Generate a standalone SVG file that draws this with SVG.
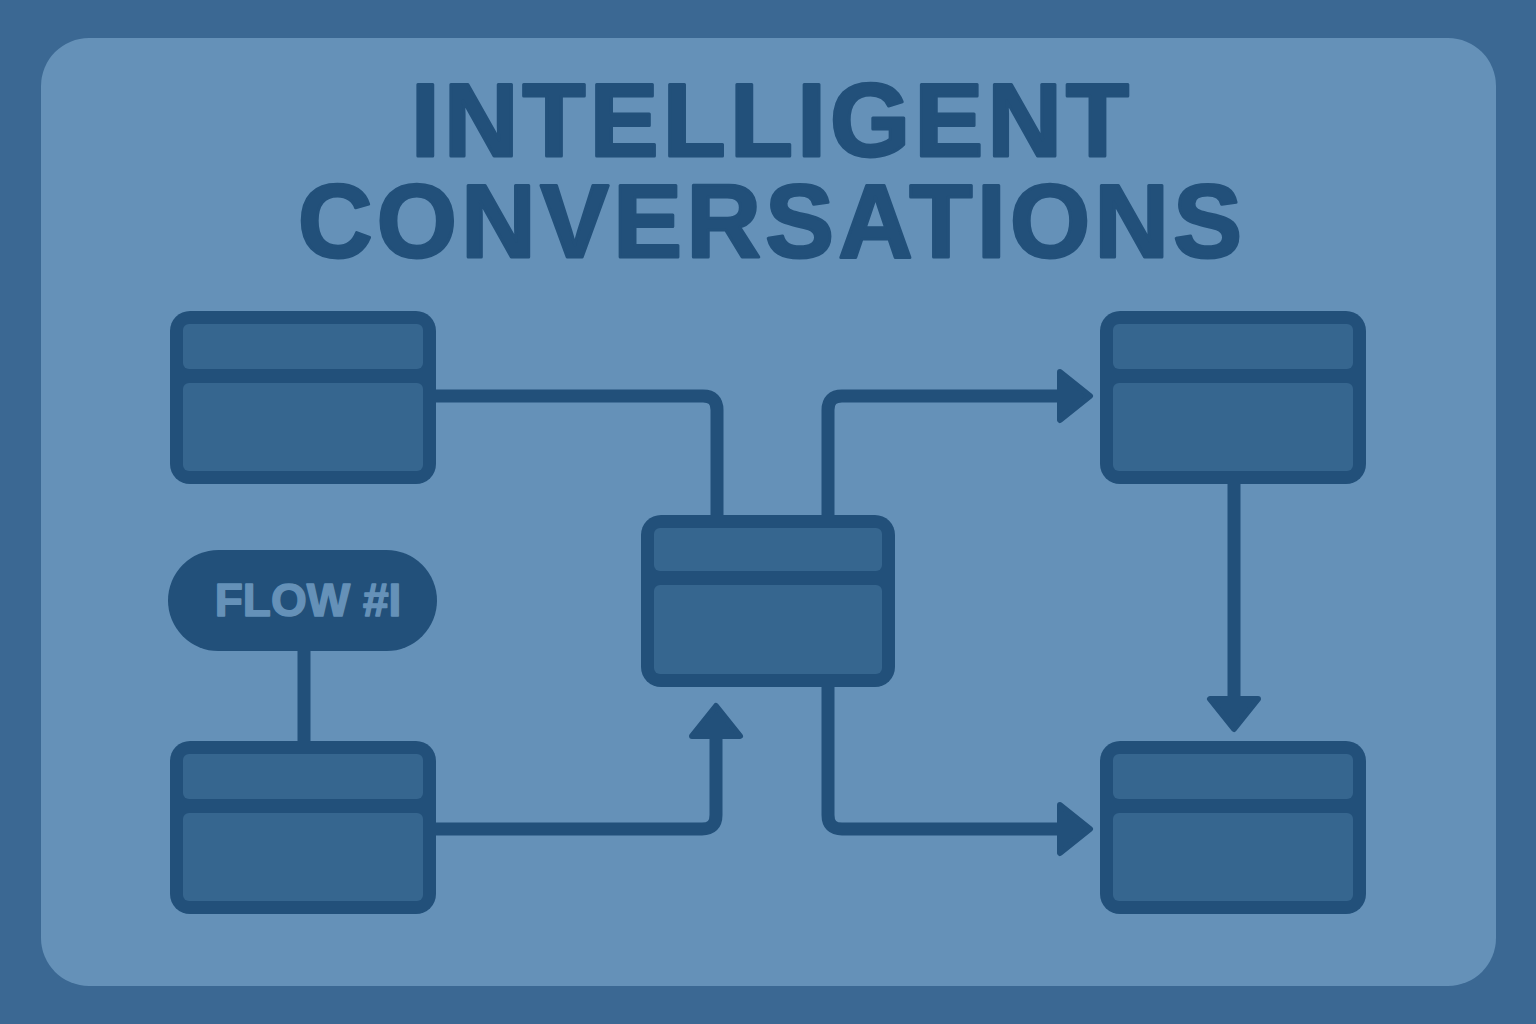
<svg xmlns="http://www.w3.org/2000/svg" width="1536" height="1024" viewBox="0 0 1536 1024">
  <style>
    .title { font-family: "Liberation Sans", Arial, sans-serif; font-weight: bold; font-size: 103px; fill: #22507a; stroke: #22507a; stroke-width: 3; stroke-linejoin: round; }
    .pilltext { font-family: "Liberation Sans", Arial, sans-serif; font-weight: bold; font-size: 46px; fill: #6591b8; stroke: #6591b8; stroke-width: 1.5; stroke-linejoin: round; }
    .frame { fill: #22507a; }
    .cell { fill: #36668f; }
    .conn { fill: none; stroke: #22507a; stroke-width: 13; stroke-linejoin: round; }
  </style>
  <defs>
    <marker id="arrow" markerUnits="userSpaceOnUse" markerWidth="40" markerHeight="60" viewBox="0 -30 40 60" refX="6" refY="0" orient="auto">
      <path d="M3,-24 L33,0 L3,24 Z" fill="#22507a" stroke="#22507a" stroke-width="6" stroke-linejoin="round"/>
    </marker>
  </defs>

  <rect x="0" y="0" width="1536" height="1024" fill="#3b6893"/>
  <rect x="41" y="38" width="1455" height="948" rx="48" fill="#6591b8"/>

  <g id="title">
    <text class="title" x="770" y="156" text-anchor="middle" textLength="718" lengthAdjust="spacing">INTELLIGENT</text>
    <text class="title" x="770" y="257" text-anchor="middle" textLength="944" lengthAdjust="spacing">CONVERSATIONS</text>
  </g>

  <g id="connectors">
    <path class="conn" d="M430,396 H703 Q717,396 717,410 V518"/>
    <path class="conn" d="M828,518 V410 Q828,396 842,396 H1063" marker-end="url(#arrow)"/>
    <path class="conn" d="M828,684 V815 Q828,829 842,829 H1063" marker-end="url(#arrow)"/>
    <path class="conn" d="M1234,480 V702" marker-end="url(#arrow)"/>
    <path class="conn" d="M430,829 H702 Q716,829 716,815 V733" marker-end="url(#arrow)"/>
    <path class="conn" d="M304,648 V744"/>
  </g>

  <g id="node-top-left">
    <rect class="frame" x="170" y="311" width="266" height="173" rx="20"/>
    <rect class="cell" x="183" y="324" width="240" height="45" rx="6"/>
    <rect class="cell" x="183" y="383" width="240" height="88" rx="6"/>
  </g>

  <g id="node-flow-label">
    <rect class="frame" x="168" y="550" width="269" height="101" rx="50.5"/>
    <text class="pilltext" x="308" y="616" text-anchor="middle">FLOW #I</text>
  </g>

  <g id="node-bottom-left">
    <rect class="frame" x="170" y="741" width="266" height="173" rx="20"/>
    <rect class="cell" x="183" y="754" width="240" height="45" rx="6"/>
    <rect class="cell" x="183" y="813" width="240" height="88" rx="6"/>
  </g>

  <g id="node-center">
    <rect class="frame" x="641" y="515" width="254" height="172" rx="20"/>
    <rect class="cell" x="654" y="528" width="228" height="43" rx="6"/>
    <rect class="cell" x="654" y="585" width="228" height="89" rx="6"/>
  </g>

  <g id="node-top-right">
    <rect class="frame" x="1100" y="311" width="266" height="173" rx="20"/>
    <rect class="cell" x="1113" y="324" width="240" height="45" rx="6"/>
    <rect class="cell" x="1113" y="383" width="240" height="88" rx="6"/>
  </g>

  <g id="node-bottom-right">
    <rect class="frame" x="1100" y="741" width="266" height="173" rx="20"/>
    <rect class="cell" x="1113" y="754" width="240" height="45" rx="6"/>
    <rect class="cell" x="1113" y="813" width="240" height="88" rx="6"/>
  </g>
</svg>
